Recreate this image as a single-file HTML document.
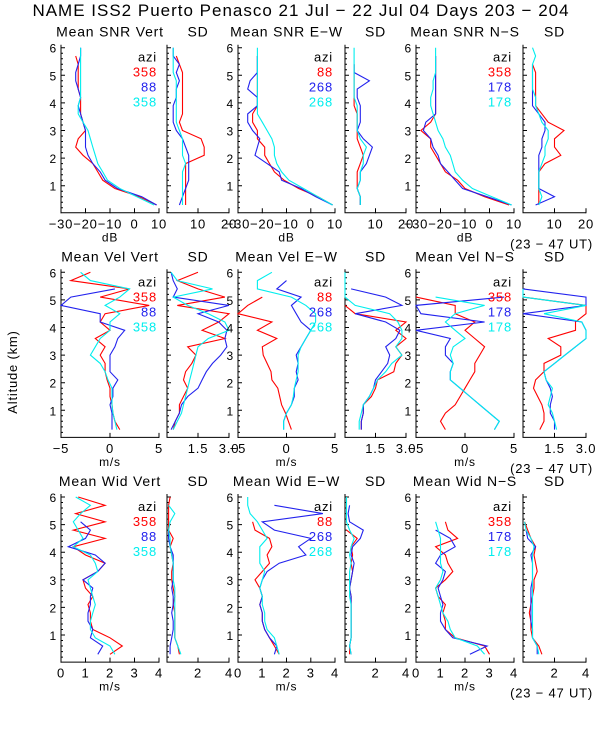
<!DOCTYPE html>
<html><head><meta charset="utf-8"><style>
html,body{margin:0;padding:0;background:#fff;}
svg text{font-family:"Liberation Sans",sans-serif;letter-spacing:0.8px;}
</style></head><body>
<svg id="chart" width="600" height="750" viewBox="0 0 600 750" xmlns="http://www.w3.org/2000/svg">
<text x="301" y="16" text-anchor="middle" font-size="17" style="letter-spacing:1px">NAME ISS2 Puerto Penasco  21 Jul − 22 Jul 04 Days 203 − 204</text>
<text transform="translate(17,372) rotate(-90)" text-anchor="middle" font-size="13">Altitude (km)</text>
<g id="plots"></g>
</svg>
<script>
// altitude grid (km) shared by all series
const alts = [0.3,0.6,0.9,1.2,1.5,1.8,2.1,2.4,2.7,3.0,3.3,3.6,3.9,4.2,4.5,4.8,5.1,5.4,5.7,6.0];
const colors = ['#ff0000','#2222ee','#00eeee'];
const n = null;

// Row 1: SNR
const snrVertRed  = [9,2,-8,-13,-15,-17,-21,-24,-23,-20,-21,-22,-22,-22,-23,-23,-23,-23,-24,n];
const snrVertBlue = [9,3,-7,-12,-14,-17,-19,-20,-20,-20,-21,-22,-23,-22,-23,-24,-24,-23,-22,-22];
const snrVertCyan = [8,1,-6,-11,-13,-15,-16,-17,-18,-19,-21,-23,-23,-22,-22,-22,-22,-22,-22,-22];
const snrVertSdRed  = [6,6,6,6,6,6,12,12,11,5,4,5,5,5,5,5,5,4,3,n];
const snrVertSdBlue = [4,5,6,7,7,7,7,6,5,3,2,2,2,3,3,4,3,4,2,2];
const snrVertSdCyan = [5,5,5,5,5,6,5,5,5,4,3,3,3,3,3,3,2,2,2,2];
const snrEwRed  = [9,3,-5,-11,-15,-17,-19,-19,-22,-22,-24,-24,-22,-22,-22,-22,-22,-22,-22,n];
const snrEwBlue = [9,2,-4,-12,-13,-18,-23,-22,-21,-24,-26,-26,-22,-22,-26,-25,-22,-22,-22,n];
const snrEwCyan = [9,3,-3,-9,-12,-14,-15,-15,-16,-18,-20,-22,-22,-22,-22,-22,-22,-22,-22,-22];
const snrEwSdRed  = [5,5,4,4,4,5,6,5,4,4,4,4,3,3,3,3,3,3,n,n];
const snrEwSdBlue = [5,5,4,5,5,7,8,9,6,4,5,5,5,4,4,8,3,3,n,n];
const snrEwSdCyan = [5,5,4,5,5,6,6,7,5,4,4,4,4,3,3,3,3,3,3,3];
const snrNsRed  = [8,-2,-10,-13,-18,-20,-22,-24,-24,-28,-24,-22,-22,-22,-22,-22,-22,-22,-22,n];
const snrNsBlue = [9,-1,-11,-14,-17,-20,-21,-23,-24,-27,-26,-22,-22,-22,-22,-22,-22,-22,-22,n];
const snrNsCyan = [9,1,-7,-11,-14,-15,-16,-18,-19,-21,-22,-23,-24,-24,-23,-23,-22,-22,-22,-22];
const snrNsSdRed  = [5,5,5,5,5,7,12,10,10,13,8,6,4,4,4,4,4,3,n,n];
const snrNsSdBlue = [4,10,5,5,5,5,5,6,6,7,7,5,3,3,3,3,3,3,n,n];
const snrNsSdCyan = [5,6,5,5,5,6,7,7,8,8,6,5,4,4,3,3,3,3,4,3];

// Row 2: velocity
const velVertRed  = [1,0.5,0.3,0.2,0,0,-0.3,-0.5,-0.5,-1,-0.5,-1.5,0,-1,-0.5,4,-1,2,-4,-2];
const velVertBlue = [0.2,0.2,0.2,0,0.3,0.3,0.8,0,0,0,0.5,0.8,1.5,-1,-1,-5,-4,0.5,n,n];
const velVertCyan = [0.7,0.5,0.3,0.2,0.2,0.2,-0.2,-0.5,-1,-2,-1.5,-1,0,0,1,-0.5,1,2,-2,-3];
const velVertSdRed  = [0.3,0.4,0.6,0.6,0.8,1.0,0.8,0.9,1.2,1.4,1.0,2.8,1.7,2.5,3,0.5,2.8,1.5,0.5,1.5];
const velVertSdBlue = [0.2,0.4,0.6,0.7,1.0,1.5,1.7,1.9,2.2,2.6,2.9,2.8,2.9,2.5,1.5,3,0.3,0.5,0.3,0.2];
const velVertSdCyan = [0.3,0.5,0.7,0.8,0.9,1.0,1.1,1.2,1.3,1.4,1.5,2,3,2.8,2,1,0.3,2.2,0.5,0.2];
const velEwRed  = [0.5,0.2,-0.1,-0.5,-0.7,-0.9,-1.5,-1.6,-2,-2.4,-2.5,-1,-3,-1.5,-5,-4,-2.5,n,n,n];
const velEwBlue = [-0.3,-0.3,0,0.5,0.8,0.8,1.2,1,1.2,1.0,1.5,2,2.5,1.5,1,0.5,1.5,-1,0,n];
const velEwCyan = [-0.3,-0.3,0,0.5,0.7,0.8,1,1.2,1.2,1.2,1.5,2,2.5,3,3,2,0.5,-3,-3,-1.5];
const velEwSdRed  = [0.8,0.8,0.9,0.9,1.3,1.5,1.6,2.4,2.5,2.8,2.5,3,2.5,3,0.5,0,n,n,n,n];
const velEwSdBlue = [0.8,0.8,0.9,0.9,1.2,1.4,1.5,1.8,2.1,2.2,2.0,2.5,2.7,2,0.5,2.8,2,0.3,n,n];
const velEwSdCyan = [0.7,0.7,0.8,0.9,1.2,1.4,1.6,2.0,2.3,2.8,2.5,2.8,2.8,2.6,2.2,0.5,0,0,0,0];
const velNsRed  = [-2,-2.5,-2,-1,-0.5,0,0.5,1,1,1.5,2,1,0,1,-1,-1,-5,n,n,n];
const velNsBlue = [3,3.5,2.5,1.5,0.5,-0.5,-1.5,-1.5,-1.2,-2,-2,-1.5,-5,2,-4.5,-5,4,n,n,n];
const velNsCyan = [3,3.5,2.5,1.5,0.5,-0.5,-1.5,-1.5,-1.2,-1.5,-1.2,0,-1,-2,-1,2,-3,n,n,n];
const velNsSdRed  = [0.8,1.0,1.0,0.9,0.7,0.5,0.6,1.0,1.0,1.8,1.8,1.2,2.5,2.5,3,3,0,n,n,n];
const velNsSdBlue = [1.5,1.5,1.3,1.3,1.4,1.3,1.1,1.0,1.5,2.0,2.5,3,3,2.8,0,3,3,0,n,n];
const velNsSdCyan = [1.6,1.5,1.4,1.2,1.3,1.4,1.1,1.0,1.5,2.0,2.5,3,3,2.8,1,3,0,0,n,n];

// Row 3: width
const widVertRed  = [2,2.5,2.0,1.3,1.2,1.2,1.1,1.3,1.0,0.9,1.5,1.8,1.0,0.5,1.8,0.5,1.8,0.6,1.8,0.7];
const widVertBlue = [1.5,1.7,1.2,1.3,1.1,1.1,1.2,1.2,1.3,0.9,1.5,1.8,1.4,0.3,1.0,1.2,0.8,n,n,n];
const widVertCyan = [2.2,2.0,1.4,1.2,1.2,1.3,1.4,1.3,1.2,1.1,1.5,1.4,1.2,0.5,0.9,0.7,0.5,0.8,1.2,0.6];
const widVertSdRed  = [0.8,0.7,0.5,0.5,0.5,0.5,0.4,0.5,0.4,0.3,0.3,0.4,0.3,0.2,0.4,0.1,0.1,0.1,0.1,0.2];
const widVertSdBlue = [0.2,0.2,0.3,0.4,0.4,0.3,0.4,0.4,0.3,0.4,0.4,0.4,0.4,0.2,0.1,0.1,n,n,n,n];
const widVertSdCyan = [0.9,0.7,0.5,0.5,0.5,0.5,0.5,0.5,0.5,0.4,0.4,0.4,0.3,0.2,0.2,0.1,0.2,0.5,0.1,n];
const widEwRed  = [1.7,1.5,1.3,1.1,1.0,1.0,0.9,1.0,0.9,0.7,1.0,1.3,1.2,1.4,1.3,0.7,0.6,n,n,n];
const widEwBlue = [1.5,1.6,1.3,1.1,1.0,1.0,0.9,1.0,0.9,1.0,1.2,1.7,2.8,2.5,3,1.5,1.0,3.5,1.5,n];
const widEwCyan = [1.7,1.6,1.5,1.2,1.1,1.1,1.0,1.0,0.9,1.0,1.1,0.9,0.9,0.9,1.2,1.0,0.8,0.5,0.4,0.4];
const widEwSdRed  = [0.3,0.3,0.4,0.4,0.4,0.4,0.4,0.4,0.3,0.4,0.5,0.4,0.5,0.4,0.8,0.1,n,n,n,n];
const widEwSdBlue = [0.4,0.3,0.4,0.4,0.4,0.4,0.4,0.4,0.3,0.4,0.5,0.6,0.4,0.5,1.0,1.2,0.3,0.2,0.3,n];
const widEwSdCyan = [0.4,0.3,0.4,0.4,0.4,0.4,0.4,0.3,0.3,0.3,0.3,0.4,0.3,0.4,0.6,0.3,0.1,0.1,0.1,0.1];
const widNsRed  = [3,2.8,1.6,1.2,1.2,1.1,1.2,0.9,0.8,1.2,1.5,1.3,1.2,0.8,1.7,1.3,1.2,n,n,n];
const widNsBlue = [2.2,2.9,1.5,1.2,1.0,1.0,1.1,1.0,0.9,1.1,1.2,0.8,1.0,1.6,1.4,0.8,n,n,n,n];
const widNsCyan = [2.8,2.5,1.6,1.4,1.3,1.1,1.0,0.9,0.8,1.0,1.1,1.0,1.0,1.0,1.0,0.9,0.8,n,n,n];
const widNsSdRed  = [1.2,1.0,0.6,0.5,0.5,0.4,0.5,0.6,0.7,0.7,0.9,0.8,0.7,0.8,0.5,0.3,0.1,n,n,n];
const widNsSdBlue = [0.9,0.9,0.6,0.6,0.5,0.5,0.5,0.5,0.5,0.6,0.6,0.6,0.5,0.8,0.3,0.2,n,n,n,n];
const widNsSdCyan = [1.0,0.9,0.6,0.6,0.6,0.6,0.6,0.6,0.6,0.6,0.6,0.6,0.6,0.7,0.5,0.2,0.1,n,n,n];

// tick labels
const snrTicks = [-30,-20,-10,0,10];
const snrSdTicks = [10,20];
const velTicks = [-5,0,5];
const velSdTicks = ['1.5','3.0'];
const widTicks = [0,1,2,3,4];
const widSdTicks = [2,4];
const altTicks = [1,2,3,4,5,6];
const legendVert = ['358','88','358'];
const legendEw = ['88','268','268'];
const legendNs = ['358','178','178'];

const NS = 'http://www.w3.org/2000/svg';
const root = document.getElementById('plots');
const KM = 27.6;
const cols = [[61,159],[167,229],[238,335],[345,406],[416,514],[523,586]];
const rowY0 = [213.3,437.9,662.6];

function mk(tag, attrs, parent, txt){
  const e = document.createElementNS(NS, tag);
  for (const k in attrs) e.setAttribute(k, attrs[k]);
  if (txt !== undefined) e.textContent = txt;
  parent.appendChild(e);
  return e;
}

function panel(name, row, col, xmin, xmax, ticks, title, series, legend, unit, showAlt, ut){
  const g = mk('g', {}, root);
  
  
  const [px0, px1] = cols[col];
  const y0 = rowY0[row];
  const xs = v => px0 + (v - xmin) / (xmax - xmin) * (px1 - px0);
  const ys = a => y0 - a * KM;
  const top = ys(6) - 3;
  const t = mk('text', {x:(px0+px1)/2, y:top-8, 'text-anchor':'middle', 'font-size':14}, g, title);
  
  
  const ax = mk('path', {d:`M${px0} ${top}V${y0-0.5}H${px1}`, stroke:'#000', fill:'none', 'stroke-width':1}, g);
  
  
  let d = '';
  for (let a = 0.2; a <= 6.01; a += 0.2) {
    const major = Math.abs(a - Math.round(a)) < 0.01;
    d += `M${px0} ${ys(a).toFixed(1)}h${major?4:2}`;
  }
  altTicks.forEach(a => {
    if (showAlt) {
      const lt = mk('text', {x:px0-4, y:ys(a)+5, 'text-anchor':'end', 'font-size':12}, g, String(a));
      
      
    }
  });
  ticks.forEach(tv => {
    const x = xs(parseFloat(tv));
    d += `M${x.toFixed(1)} ${y0}v-5`;
    const lt = mk('text', {x:x, y:y0+15, 'text-anchor':'middle', 'font-size':13}, g, String(tv).replace('-', '−'));
    
    
  });
  const tk = mk('path', {d:d, stroke:'#000', fill:'none', 'stroke-width':1}, g);
  
  
  if (unit) {
    const u = mk('text', {x:(px0+px1)/2, y:y0+28, 'text-anchor':'middle', 'font-size':12}, g, unit);
    
    
  }
  if (ut) {
    const u = mk('text', {x:593, y:y0+35, 'text-anchor':'end', 'font-size':13}, g, '(23 − 47 UT)');
    
    
  }
  series.forEach((vals, si) => {
    let p = '', pen = false;
    vals.forEach((v, i) => {
      if (v === null) { pen = false; return; }
      p += (pen ? 'L' : 'M') + xs(v).toFixed(1) + ' ' + ys(alts[i]).toFixed(1);
      pen = true;
    });
    const line = mk('path', {d:p, stroke:colors[si], fill:'none', 'stroke-width':1.1}, g);
    
    
  });
  if (legend) {
    const ly = ys(6);
    const l0 = mk('text', {x:px1-2, y:ly+14, 'text-anchor':'end', 'font-size':13}, g, 'azi');
    
    
    legend.forEach((lab, i) => {
      const le = mk('text', {x:px1-2, y:ly+29+i*15, 'text-anchor':'end', 'font-size':13, fill:colors[i]}, g, lab);
      
      
    });
  }
}

panel('snr-vert-panel',0,0,-30,10,snrTicks,'Mean SNR Vert',[snrVertRed,snrVertBlue,snrVertCyan],legendVert,'dB',true,false);
panel('snr-vert-sd-panel',0,1,0,20,snrSdTicks,'SD',[snrVertSdRed,snrVertSdBlue,snrVertSdCyan],null,null,false,false);
panel('snr-ew-panel',0,2,-30,10,snrTicks,'Mean SNR E−W',[snrEwRed,snrEwBlue,snrEwCyan],legendEw,'dB',true,false);
panel('snr-ew-sd-panel',0,3,0,20,snrSdTicks,'SD',[snrEwSdRed,snrEwSdBlue,snrEwSdCyan],null,null,false,false);
panel('snr-ns-panel',0,4,-30,10,snrTicks,'Mean SNR N−S',[snrNsRed,snrNsBlue,snrNsCyan],legendNs,'dB',true,false);
panel('snr-ns-sd-panel',0,5,0,20,snrSdTicks,'SD',[snrNsSdRed,snrNsSdBlue,snrNsSdCyan],null,null,false,true);

panel('vel-vert-panel',1,0,-5,5,velTicks,'Mean Vel Vert',[velVertRed,velVertBlue,velVertCyan],legendVert,'m/s',true,false);
panel('vel-vert-sd-panel',1,1,0,3,velSdTicks,'SD',[velVertSdRed,velVertSdBlue,velVertSdCyan],null,null,false,false);
panel('vel-ew-panel',1,2,-5,5,velTicks,'Mean Vel E−W',[velEwRed,velEwBlue,velEwCyan],legendEw,'m/s',true,false);
panel('vel-ew-sd-panel',1,3,0,3,velSdTicks,'SD',[velEwSdRed,velEwSdBlue,velEwSdCyan],null,null,false,false);
panel('vel-ns-panel',1,4,-5,5,velTicks,'Mean Vel N−S',[velNsRed,velNsBlue,velNsCyan],legendNs,'m/s',true,false);
panel('vel-ns-sd-panel',1,5,0,3,velSdTicks,'SD',[velNsSdRed,velNsSdBlue,velNsSdCyan],null,null,false,true);

panel('wid-vert-panel',2,0,0,4,widTicks,'Mean Wid Vert',[widVertRed,widVertBlue,widVertCyan],legendVert,'m/s',true,false);
panel('wid-vert-sd-panel',2,1,0,4,widSdTicks,'SD',[widVertSdRed,widVertSdBlue,widVertSdCyan],null,null,false,false);
panel('wid-ew-panel',2,2,0,4,widTicks,'Mean Wid E−W',[widEwRed,widEwBlue,widEwCyan],legendEw,'m/s',true,false);
panel('wid-ew-sd-panel',2,3,0,4,widSdTicks,'SD',[widEwSdRed,widEwSdBlue,widEwSdCyan],null,null,false,false);
panel('wid-ns-panel',2,4,0,4,widTicks,'Mean Wid N−S',[widNsRed,widNsBlue,widNsCyan],legendNs,'m/s',true,false);
panel('wid-ns-sd-panel',2,5,0,4,widSdTicks,'SD',[widNsSdRed,widNsSdBlue,widNsSdCyan],null,null,false,true);
</script>
</body></html>
